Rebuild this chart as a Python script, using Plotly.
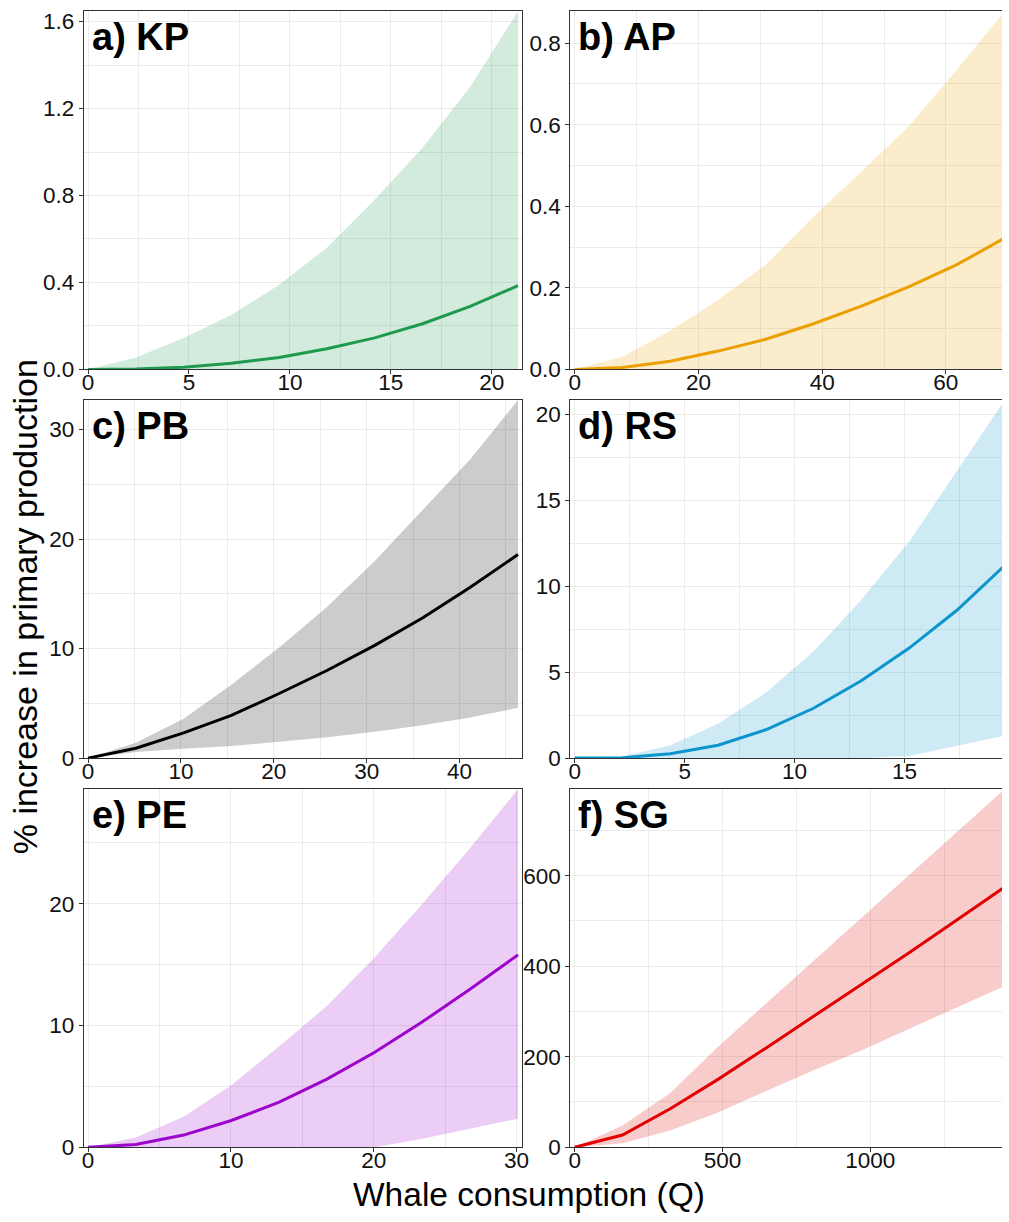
import plotly.graph_objects as go

# Whale consumption (Q) and % increase in primary production for each region:
# mean response with lower / upper bounds of the uncertainty band.
kp_q = [0, 2.367, 4.733, 7.1, 9.467, 11.83, 14.2, 16.57, 18.93, 21.3]
kp_mean = [0, 0.002, 0.01, 0.028, 0.055, 0.095, 0.145, 0.21, 0.29, 0.385]
kp_low = [0, 0, 0, 0, 0, 0, 0, 0, 0, 0]
kp_high = [0, 0.055, 0.145, 0.25, 0.39, 0.56, 0.78, 1.02, 1.30, 1.647]

ap_q = [0, 7.72, 15.44, 23.17, 30.89, 38.61, 46.33, 54.06, 61.78, 69.5]
ap_mean = [0, 0.005, 0.02, 0.045, 0.074, 0.112, 0.155, 0.203, 0.257, 0.322]
ap_low = [0, 0, 0, 0, 0, 0, 0, 0, 0, 0]
ap_high = [0, 0.031, 0.095, 0.17, 0.257, 0.375, 0.485, 0.597, 0.735, 0.878]

pb_q = [0, 5.144, 10.29, 15.43, 20.58, 25.72, 30.87, 36.01, 41.16, 46.3]
pb_mean = [0, 0.9, 2.3, 3.9, 5.9, 8.0, 10.3, 12.8, 15.6, 18.6]
pb_low = [0, 0.55, 0.85, 1.1, 1.5, 1.9, 2.4, 3.0, 3.7, 4.6]
pb_high = [0, 1.4, 3.6, 6.7, 10.1, 13.8, 18.0, 22.6, 27.3, 32.7]

rs_q = [0, 2.172, 4.344, 6.517, 8.689, 10.86, 13.03, 15.21, 17.38, 19.55]
rs_mean = [0, 0.02, 0.25, 0.75, 1.65, 2.9, 4.5, 6.4, 8.6, 11.2]
rs_low = [0, 0, 0, 0, 0, 0, 0, 0.12, 0.72, 1.3]
rs_high = [0, 0.1, 0.75, 2.0, 3.8, 6.2, 9.2, 12.6, 16.7, 20.83]

pe_q = [0, 3.344, 6.689, 10.03, 13.38, 16.72, 20.07, 23.41, 26.76, 30.1]
pe_mean = [0, 0.22, 1.0, 2.2, 3.7, 5.6, 7.8, 10.3, 13.0, 15.8]
pe_low = [0, 0, 0, 0, 0, 0, 0, 0.7, 1.5, 2.35]
pe_high = [0, 0.8, 2.5, 5.1, 8.3, 11.6, 15.6, 20.0, 24.6, 29.4]

sg_q = [0, 161.7, 323.3, 485, 646.7, 808.3, 970, 1131.7, 1293.3, 1455]
sg_mean = [0, 27, 85, 150, 219, 289, 358, 430, 502, 575]
sg_low = [0, 9, 37, 77, 124, 170, 214, 262, 309, 356]
sg_high = [0, 48, 120, 222, 317, 412, 507, 602, 697, 791]

panel_labels = ["a) KP", "b) AP", "c) PB", "d) RS", "e) PE", "f) SG"]
x_title = "Whale consumption (Q)"
y_title = "% increase in primary production"

W, H = 1009, 1222
FONT = "Liberation Sans, Arial, sans-serif"

# panel geometry in pixels: columns (left, right) and rows (top, bottom)
cols = [(82.5, 525.0), (573.5, 1016.0)]
rows = [(9.5, 372.0), (403.0, 765.5), (797.0, 1159.5)]

panels = [
    dict(q=kp_q, m=kp_mean, lo=kp_low, hi=kp_high, color=(30, 154, 79), xd=5, yd=0.4, yfmt=".1f"),
    dict(q=ap_q, m=ap_mean, lo=ap_low, hi=ap_high, color=(235, 160, 0), xd=20, yd=0.2, yfmt=".1f"),
    dict(q=pb_q, m=pb_mean, lo=pb_low, hi=pb_high, color=(0, 0, 0), xd=10, yd=10, yfmt=""),
    dict(q=rs_q, m=rs_mean, lo=rs_low, hi=rs_high, color=(11, 149, 204), xd=5, yd=5, yfmt=""),
    dict(q=pe_q, m=pe_mean, lo=pe_low, hi=pe_high, color=(155, 5, 204), xd=10, yd=10, yfmt=""),
    dict(q=sg_q, m=sg_mean, lo=sg_low, hi=sg_high, color=(227, 0, 0), xd=500, yd=200, yfmt=""),
]

fig = go.Figure()
layout = {}
annotations = []

for i, p in enumerate(panels):
    r, c = divmod(i, 2)
    (x0, x1), (y0, y1) = cols[c], rows[r]
    sfx = "" if i == 0 else str(i + 1)
    xa, ya = "x" + sfx, "y" + sfx
    rgb = "rgb(%d,%d,%d)" % p["color"]
    rgba = "rgba(%d,%d,%d,0.2)" % p["color"]

    fig.add_trace(go.Scatter(x=p["q"], y=p["lo"], mode="lines", line=dict(width=0),
                             hoverinfo="skip", showlegend=False, xaxis=xa, yaxis=ya))
    fig.add_trace(go.Scatter(x=p["q"], y=p["hi"], mode="lines", line=dict(width=0),
                             fill="tonexty", fillcolor=rgba, hoverinfo="skip",
                             showlegend=False, xaxis=xa, yaxis=ya))
    fig.add_trace(go.Scatter(x=p["q"], y=p["m"], mode="lines",
                             line=dict(color=rgb, width=3), showlegend=False,
                             xaxis=xa, yaxis=ya))

    # x axis: 1% expansion either side; right-hand panels run past the page edge
    qmax = max(p["q"])
    r0, r1 = -0.01 * qmax, 1.01 * qmax
    dom_right = x1
    if x1 > W:
        r1 = r0 + (W - x0) / (x1 - x0) * (r1 - r0)
        dom_right = W
    ymax = max(p["hi"])

    common = dict(showgrid=True, gridcolor="#ebebeb", gridwidth=1.1, zeroline=False,
                  showline=True, linecolor="#333333", linewidth=1,
                  ticks="outside", ticklen=4, tickwidth=1, tickcolor="#333333",
                  tickfont=dict(family=FONT, size=22.5, color="#111111"))

    layout["xaxis" + sfx] = dict(
        common, domain=[x0 / W, dom_right / W], range=[r0, r1], anchor=ya,
        tick0=0, dtick=p["xd"], mirror=True, ticklabelstandoff=-11,
        minor=dict(tick0=0, dtick=p["xd"] / 2, showgrid=True, gridcolor="#ebebeb",
                   gridwidth=0.6, ticks=""),
    )
    layout["yaxis" + sfx] = dict(
        common, domain=[1 - y1 / H, 1 - y0 / H], range=[0, ymax], anchor=xa,
        tick0=0, dtick=p["yd"], tickformat=p["yfmt"], mirror=(c == 0),
        minor=dict(tick0=0, dtick=p["yd"] / 2, showgrid=True, gridcolor="#ebebeb",
                   gridwidth=0.6, ticks=""),
    )

    size = 38
    annotations.append(dict(
        text="<b>%s</b>" % panel_labels[i], xref="paper", yref="paper",
        x=(x0 + 6) / W, y=1 - (y0 + 39.5 - 0.3465 * size) / H,
        xanchor="left", yanchor="middle", showarrow=False,
        font=dict(family=FONT, size=size, color="black"),
    ))

annotations.append(dict(
    text=x_title, xref="paper", yref="paper", x=532 / W, y=1 - 1207 / H,
    xanchor="center", yanchor="middle", showarrow=False,
    font=dict(family=FONT, size=33.5, color="black"),
))
annotations.append(dict(
    text=y_title, xref="paper", yref="paper", x=24 / W, y=1 - 612 / H,
    xanchor="center", yanchor="middle", showarrow=False, textangle=-90,
    font=dict(family=FONT, size=34, color="black"),
))

fig.update_layout(
    width=W, height=H, margin=dict(l=0, r=0, t=0, b=0),
    paper_bgcolor="white", plot_bgcolor="white",
    showlegend=False, annotations=annotations, **layout,
)

fig.write_html("out.html", include_plotlyjs=True, config={"displayModeBar": False})
